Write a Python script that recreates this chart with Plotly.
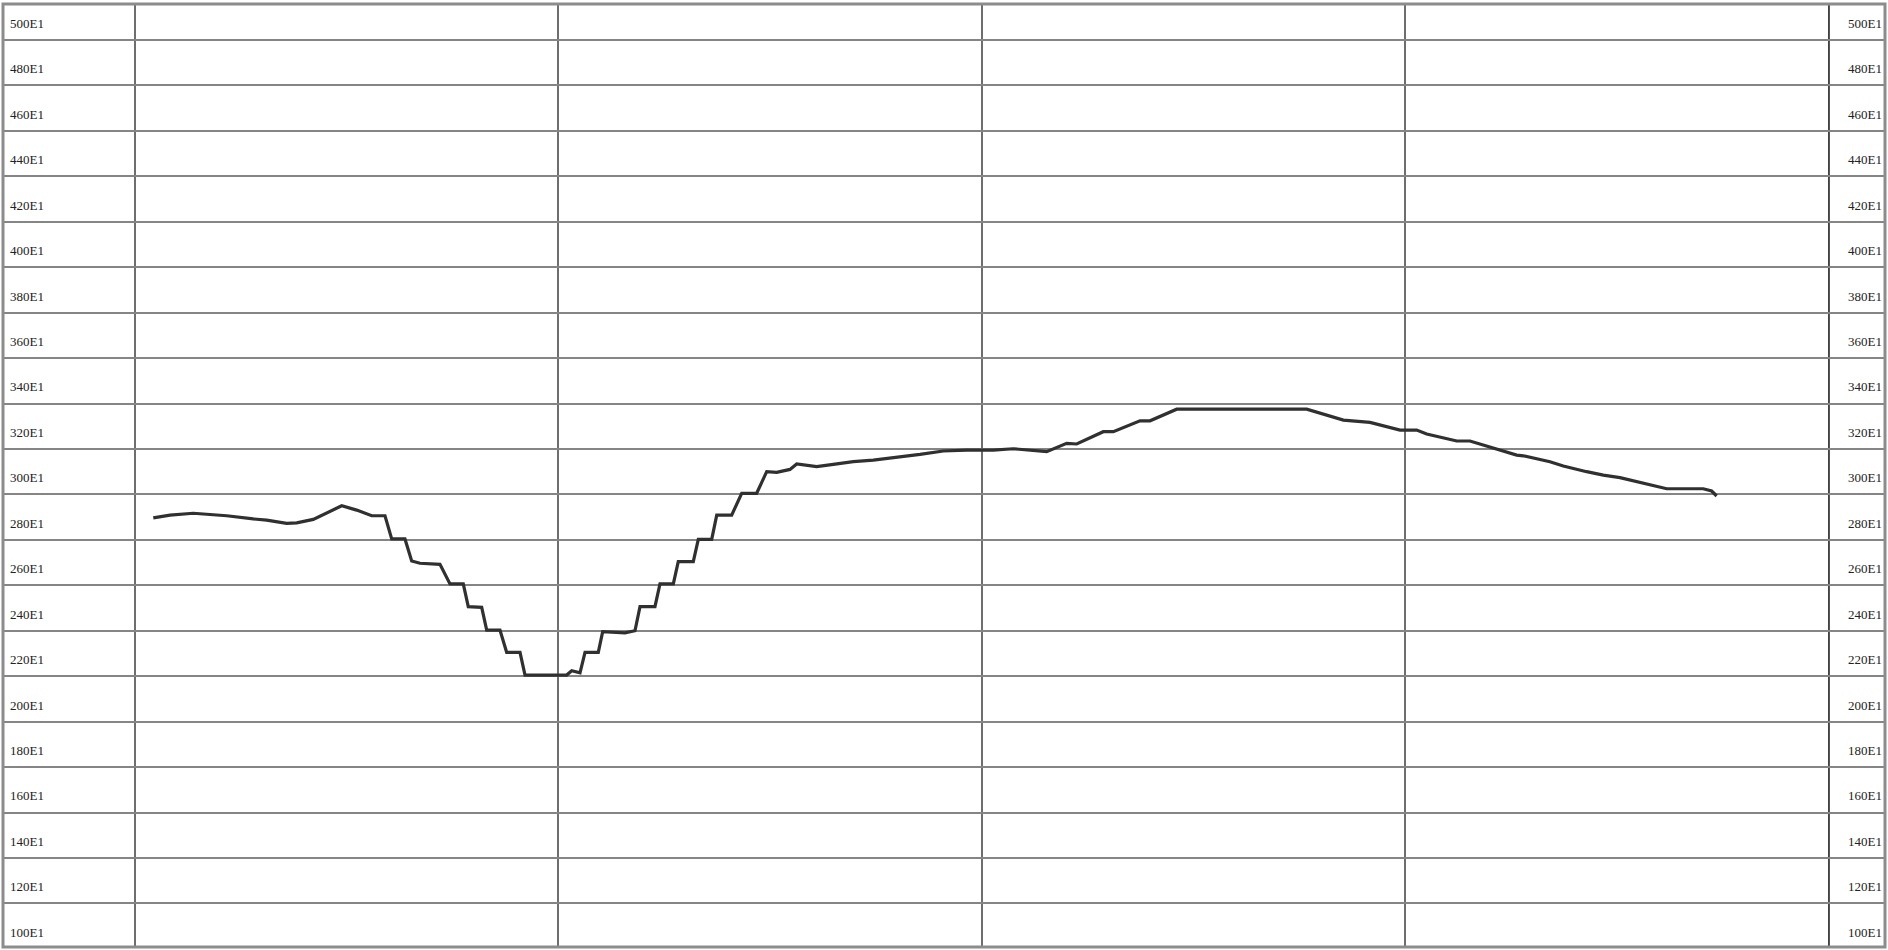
import plotly.graph_objects as go

# ---- data ----
hours = [0.259, 0.496, 0.826, 0.968, 1.299, 1.676, 1.866, 2.149, 2.291, 2.526,
         2.763, 2.929, 3.141, 3.354, 3.542, 3.637, 3.825, 3.920, 4.038, 4.321,
         4.463, 4.651, 4.722, 4.912, 4.983, 5.171, 5.266, 5.455, 5.526, 6.116,
         6.187, 6.305, 6.376, 6.564, 6.626, 6.942, 7.084, 7.155, 7.367, 7.438,
         7.627, 7.697, 7.910, 7.981, 8.171, 8.242, 8.454, 8.596, 8.808, 8.950,
         9.092, 9.280, 9.375, 9.658, 9.893, 10.177, 10.460, 10.791, 11.122, 11.452,
         11.784, 12.161, 12.444, 12.917, 13.200, 13.342, 13.719, 13.861, 14.239, 14.381,
         14.759, 16.601, 17.120, 17.498, 17.923, 18.159, 18.301, 18.726, 18.914, 19.576,
         19.669, 20.047, 20.236, 20.567, 20.803, 21.039, 21.701, 22.219, 22.338, 22.409]
values = [279.7, 280.9, 281.7, 281.4, 280.6, 279.2, 278.7, 277.3, 277.5, 279.0,
          282.4, 285.0, 283.1, 280.6, 280.6, 270.4, 270.4, 260.7, 259.7, 259.2,
          250.6, 250.6, 240.6, 240.3, 230.3, 230.3, 220.5, 220.5, 210.5, 210.5,
          212.4, 211.5, 220.5, 220.5, 229.6, 229.1, 230.0, 240.6, 240.6, 250.6,
          250.6, 260.4, 260.4, 270.2, 270.2, 280.9, 280.9, 290.5, 290.5, 300.0,
          299.7, 301.0, 303.4, 302.2, 303.2, 304.4, 305.1, 306.3, 307.6, 309.1,
          309.5, 309.5, 310.1, 308.8, 312.5, 312.2, 317.6, 317.6, 322.4, 322.4,
          327.5, 327.5, 322.7, 321.7, 318.3, 318.3, 316.6, 313.5, 313.5, 307.3,
          307.0, 304.4, 302.5, 300.0, 298.5, 297.4, 292.5, 292.5, 291.5, 289.3]

label_values = [500, 480, 460, 440, 420, 400, 380, 360, 340, 320, 300,
                280, 260, 240, 220, 200, 180, 160, 140, 120, 100]
label_texts = [f"{v}E1" for v in label_values]

column_hours = [0, 6, 12, 18]
end_hour = 24

# ---- figure ----
fig = go.Figure()
fig.add_trace(go.Scatter(
    x=hours, y=values, mode="lines",
    line=dict(color="#303030", width=3.2),
    hoverinfo="skip", showlegend=False,
))

font = dict(family="Liberation Serif, Times New Roman, serif", size=13, color="#222222")
annotations = []
for v, t in zip(label_values, label_texts):
    annotations.append(dict(x=0.0027, xref="paper", y=v - 2.7, yref="y", text=t,
                            showarrow=False, xanchor="left", yanchor="middle", font=font))
    annotations.append(dict(x=1.0, xref="paper", xshift=-1, y=v - 2.7, yref="y", text=t,
                            showarrow=False, xanchor="right", yanchor="middle", font=font))

shapes = [
    dict(type="line", xref="x", yref="paper", x0=end_hour, x1=end_hour, y0=0, y1=1,
         line=dict(color="#111111", width=1.5), layer="below"),
    dict(type="rect", xref="paper", yref="paper", x0=0, x1=1, y0=0, y1=1,
         line=dict(color="#8c8c8c", width=3), layer="above"),
]

fig.update_layout(
    width=1888, height=950,
    margin=dict(l=3, r=3, t=4, b=3),
    paper_bgcolor="white", plot_bgcolor="white",
    showlegend=False,
    annotations=annotations,
    shapes=shapes,
    xaxis=dict(range=[-1.870, 24.794], tickmode="array", tickvals=column_hours,
               showgrid=True, gridcolor="#6e6e6e", gridwidth=1.5,
               showticklabels=False, zeroline=False, showline=False, ticks=""),
    yaxis=dict(range=[90.8, 505.85], tick0=10, dtick=20,
               showgrid=True, gridcolor="#858585", gridwidth=2,
               showticklabels=False, zeroline=False, showline=False, ticks=""),
)

fig.write_html("out.html", config={"displayModeBar": False},
               post_script="document.body.style.margin='0';")
